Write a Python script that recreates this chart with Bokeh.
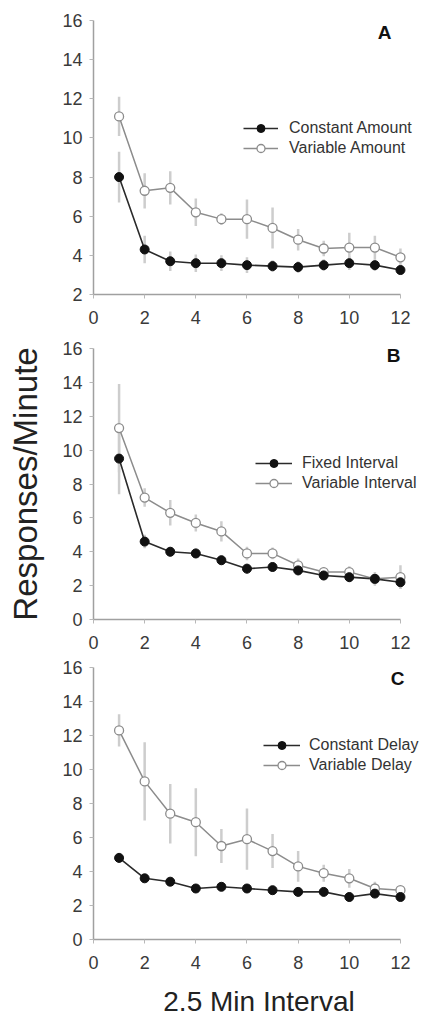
from bokeh.plotting import figure
from bokeh.models import Range1d, FixedTicker, Legend, LegendItem, Label
from bokeh.layouts import column
from bokeh.embed import file_html
from bokeh.resources import INLINE

intervals = list(range(1, 13))
x_ticks = [0, 2, 4, 6, 8, 10, 12]

# Panel A
a_const = [8.0, 4.3, 3.7, 3.6, 3.6, 3.5, 3.45, 3.4, 3.5, 3.6, 3.5, 3.25]
a_const_err = [1.3, 0.7, 0.5, 0.45, 0.4, 0.4, 0.3, 0.3, 0.3, 0.35, 0.3, 0.25]
a_var = [11.1, 7.3, 7.45, 6.2, 5.85, 5.85, 5.4, 4.8, 4.35, 4.4, 4.4, 3.9]
a_var_err = [1.0, 0.9, 0.85, 0.7, 0.3, 1.0, 1.05, 0.55, 0.4, 0.75, 0.6, 0.45]

# Panel B
b_fixed = [9.5, 4.6, 4.0, 3.9, 3.5, 3.0, 3.1, 2.9, 2.6, 2.5, 2.4, 2.2]
b_fixed_err = [2.1, 0.4, 0.3, 0.3, 0.3, 0.3, 0.3, 0.3, 0.3, 0.3, 0.3, 0.4]
b_var = [11.3, 7.2, 6.3, 5.7, 5.2, 3.9, 3.9, 3.2, 2.8, 2.8, 2.4, 2.5]
b_var_err = [2.6, 0.55, 0.75, 0.5, 0.6, 0.4, 0.35, 0.4, 0.3, 0.35, 0.4, 0.7]

# Panel C
c_const = [4.8, 3.6, 3.4, 3.0, 3.1, 3.0, 2.9, 2.8, 2.8, 2.5, 2.7, 2.5]
c_const_err = [0.3, 0.25, 0.25, 0.2, 0.2, 0.2, 0.2, 0.2, 0.2, 0.3, 0.2, 0.2]
c_var = [12.3, 9.3, 7.4, 6.9, 5.5, 5.9, 5.2, 4.3, 3.9, 3.6, 3.0, 2.9]
c_var_err = [0.95, 2.3, 1.75, 2.0, 1.0, 1.8, 1.0, 0.9, 0.5, 0.55, 0.4, 0.2]

panels = [
    dict(letter="A", ymin=2, const=a_const, const_err=a_const_err, var=a_var, var_err=a_var_err,
         labels=["Constant Amount", "Variable Amount"], height=335, top=20, bottom=41,
         leg=(150, 136), glyph_w=35, standoff=11, letter_pos=(291, 262)),
    dict(letter="B", ymin=0, const=b_fixed, const_err=b_fixed_err, var=b_var, var_err=b_var_err,
         labels=["Fixed Interval", "Variable Interval"], height=322, top=13, bottom=38,
         leg=(162, 126), glyph_w=37, standoff=10, letter_pos=(300, 264)),
    dict(letter="C", ymin=0, const=c_const, const_err=c_const_err, var=c_var, var_err=c_var_err,
         labels=["Constant Delay", "Variable Delay"], height=364, top=10, bottom=82,
         leg=(170, 164), glyph_w=37, standoff=9, letter_pos=(304, 261)),
]

FONT = "Liberation Sans"
figs = []
for pd_ in panels:
    p = figure(width=424, height=pd_["height"], output_backend="svg", toolbar_location=None,
               x_range=Range1d(0, 12.94), y_range=Range1d(pd_["ymin"], 16),
               min_border_left=93, min_border_right=0,
               min_border_top=pd_["top"], min_border_bottom=pd_["bottom"])
    p.outline_line_color = None
    p.grid.visible = False
    p.background_fill_color = "white"
    p.border_fill_color = "white"
    p.xaxis.ticker = FixedTicker(ticks=x_ticks)
    p.xaxis.bounds = (0, 12)
    p.yaxis.ticker = FixedTicker(ticks=list(range(pd_["ymin"], 17, 2)))
    for ax in (p.xaxis, p.yaxis):
        ax.axis_line_color = "#a0a0a0"
        ax.axis_line_width = 1.5
        ax.major_tick_line_color = "#b8b8b8"
        ax.major_tick_out = 4
        ax.major_tick_in = 0
        ax.minor_tick_line_color = None
        ax.major_label_text_font = FONT
        ax.major_label_text_font_size = "18px"
        ax.major_label_text_color = "#3a3a3a"
    p.xaxis.major_label_standoff = 12
    p.yaxis.major_label_standoff = 7

    if pd_["letter"] == "B":
        p.yaxis.axis_label = "Responses/Minute"
        p.yaxis.axis_label_text_font = FONT
        p.yaxis.axis_label_text_font_size = "33px"
        p.yaxis.axis_label_text_font_style = "normal"
        p.yaxis.axis_label_text_color = "#222222"
        p.yaxis.axis_label_standoff = 15
    if pd_["letter"] == "C":
        p.xaxis.axis_label = "2.5 Min Interval"
        p.xaxis.axis_label_text_font = FONT
        p.xaxis.axis_label_text_font_size = "28px"
        p.xaxis.axis_label_text_font_style = "normal"
        p.xaxis.axis_label_text_color = "#222222"
        p.xaxis.axis_label_standoff = 14

    c, ce, v, ve = pd_["const"], pd_["const_err"], pd_["var"], pd_["var_err"]
    p.segment(x0=intervals, x1=intervals, y0=[a - b for a, b in zip(v, ve)],
              y1=[a + b for a, b in zip(v, ve)], line_color="#cdcdcd", line_width=2.5)
    p.segment(x0=intervals, x1=intervals, y0=[a - b for a, b in zip(c, ce)],
              y1=[a + b for a, b in zip(c, ce)], line_color="#cdcdcd", line_width=2.5)
    lv = p.line(intervals, v, line_color="#8c8c8c", line_width=1.5)
    lc = p.line(intervals, c, line_color="#2a2a2a", line_width=1.6)
    mv = p.scatter(intervals, v, marker="circle", size=9, fill_color="white",
                   line_color="#8c8c8c", line_width=1.3)
    mc = p.scatter(intervals, c, marker="circle", size=9, fill_color="#111111",
                   line_color="#111111")

    legend = Legend(items=[LegendItem(label=pd_["labels"][0], renderers=[lc, mc]),
                           LegendItem(label=pd_["labels"][1], renderers=[lv, mv])],
                    location=pd_["leg"], padding=0, margin=0, spacing=0,
                    label_height=20, glyph_height=20, glyph_width=pd_["glyph_w"],
                    label_standoff=pd_["standoff"],
                    label_text_font=FONT, label_text_font_size="16px",
                    label_text_color="#333333",
                    border_line_alpha=0, background_fill_alpha=0)
    p.add_layout(legend, "center")

    p.add_layout(Label(x=pd_["letter_pos"][0], y=pd_["letter_pos"][1], x_units="screen",
                       y_units="screen", text=pd_["letter"], text_font=FONT,
                       text_font_size="19px", text_font_style="bold", text_color="#111111",
                       text_align="center", text_baseline="middle"))
    figs.append(p)

layout = column(*figs, spacing=0)
open("out.html", "w").write(file_html(layout, INLINE))
